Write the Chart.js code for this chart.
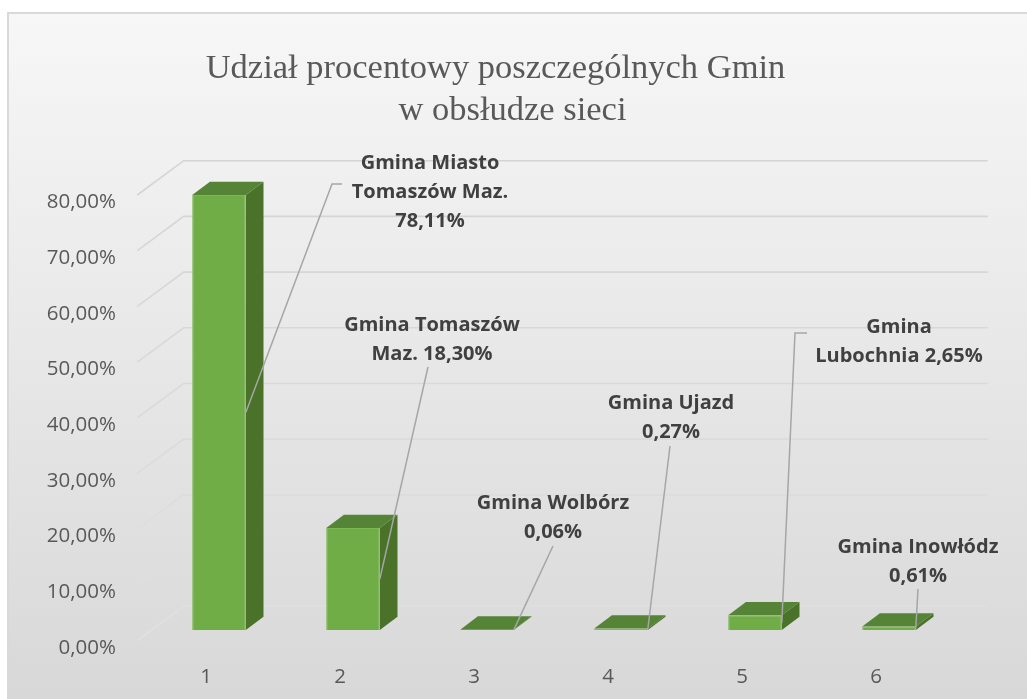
<!DOCTYPE html>
<html lang="pl">
<head>
<meta charset="UTF-8">
<title>Udział procentowy poszczególnych Gmin w obsłudze sieci</title>
<script src="https://cdn.jsdelivr.net/npm/chart.js"></script>
<style>
  html, body { margin: 0; padding: 0; background: #fff; }
  #wrap { width: 1027px; height: 699px; }
</style>
</head>
<body>
<div id="wrap"><canvas id="chart" width="1027" height="699"></canvas></div>
<script>
  // data
  const categories = ['1', '2', '3', '4', '5', '6'];
  const shares = [78.11, 18.30, 0.06, 0.27, 2.65, 0.61];
  const gminy = ['Gmina Miasto Tomaszów Maz.', 'Gmina Tomaszów Maz.', 'Gmina Wolbórz',
                 'Gmina Ujazd', 'Gmina Lubochnia', 'Gmina Inowłódz'];
  const yTicks = [0, 10, 20, 30, 40, 50, 60, 70, 80];
  const titleLines = ['Udział procentowy poszczególnych Gmin', 'w obsłudze sieci'];

  // how the data labels wrap (words per line) and where they sit
  const labelWrap = [[2, 2, 1], [2, 2], [2, 1], [2, 1], [1, 2], [2, 1]];
  const labelLayout = [
    { x: 430, y: 163, lead: [[342, 184], [332, 184]] },
    { x: 432, y: 325, lead: [[428, 367]] },
    { x: 553, y: 503, lead: [[553, 546]] },
    { x: 671, y: 403, lead: [[670, 446]] },
    { x: 899, y: 327, lead: [[807, 333], [795, 333]] },
    { x: 918, y: 547, lead: [[918, 589]] }
  ];

  const pct = v => v.toFixed(2).replace('.', ',') + '%';

  // 3D look
  const bar3d = { dx: 17.7, dy: 13.3 };     // bar depth
  const wall = { dx: 31.7, dy: 23.8 };      // back wall behind the bars
  const side = { dx: -14.7, dy: 10.5 };     // front end of side wall lines

  const frame = {
    id: 'frame',
    beforeDraw(chart) {
      const ctx = chart.ctx;
      ctx.save();
      ctx.fillStyle = '#fff';
      ctx.fillRect(0, 0, chart.width, chart.height);
      const g = ctx.createLinearGradient(0, 13, 0, chart.height);
      g.addColorStop(0, '#f7f7f7');
      g.addColorStop(1, '#d8d8d8');
      ctx.fillStyle = g;
      ctx.fillRect(8, 13, chart.width - 8, chart.height - 13);
      ctx.strokeStyle = '#d9d9d9';
      ctx.lineWidth = 2;
      ctx.beginPath();
      ctx.moveTo(8, chart.height);
      ctx.lineTo(8, 13);
      ctx.lineTo(chart.width, 13);
      ctx.stroke();

      ctx.fillStyle = '#595959';
      ctx.font = '34.5px "Liberation Serif", "Times New Roman", serif';
      ctx.textAlign = 'center';
      ctx.textBaseline = 'alphabetic';
      ctx.fillText(titleLines[0], 495.5, 78);
      ctx.fillText(titleLines[1], 512.5, 120);
      ctx.restore();
    }
  };

  const walls = {
    id: 'walls',
    beforeDatasetsDraw(chart) {
      const { ctx, chartArea: a, scales: { y } } = chart;
      ctx.save();
      const lg = ctx.createLinearGradient(0, a.top, 0, a.bottom);
      lg.addColorStop(0, '#d4d4d4');
      lg.addColorStop(1, '#e0e0e0');
      ctx.strokeStyle = lg;
      ctx.lineWidth = 1.6;
      yTicks.forEach(v => {
        const py = y.getPixelForValue(v);
        ctx.beginPath();
        ctx.moveTo(a.left + side.dx, py + side.dy);
        ctx.lineTo(a.left + wall.dx, py - wall.dy);
        ctx.lineTo(a.right + wall.dx, py - wall.dy);
        ctx.stroke();
      });

      // top and side faces of the bars
      const meta = chart.getDatasetMeta(0);
      meta.data.forEach(bar => {
        const { x, y: top, base, width } = bar.getProps(['x', 'y', 'base', 'width'], true);
        const x0 = x - width / 2, x1 = x + width / 2;
        ctx.fillStyle = '#4a7229';
        ctx.beginPath();
        ctx.moveTo(x1, top);
        ctx.lineTo(x1 + bar3d.dx, top - bar3d.dy);
        ctx.lineTo(x1 + bar3d.dx, base - bar3d.dy);
        ctx.lineTo(x1, base);
        ctx.closePath();
        ctx.fill();
        ctx.fillStyle = '#568437';
        ctx.beginPath();
        ctx.moveTo(x0, top);
        ctx.lineTo(x1, top);
        ctx.lineTo(x1 + bar3d.dx, top - bar3d.dy);
        ctx.lineTo(x0 + bar3d.dx, top - bar3d.dy);
        ctx.closePath();
        ctx.fill();
      });
      ctx.restore();
    }
  };

  const dataLabels = {
    id: 'dataLabels',
    afterDatasetsDraw(chart) {
      const { ctx, scales: { y } } = chart;
      const meta = chart.getDatasetMeta(0);
      ctx.save();
      // leader lines
      ctx.strokeStyle = '#a6a6a6';
      ctx.lineWidth = 1.5;
      meta.data.forEach((bar, i) => {
        const { x, width } = bar.getProps(['x', 'width'], true);
        const lay = labelLayout[i];
        ctx.beginPath();
        lay.lead.forEach((p, k) => k ? ctx.lineTo(p[0], p[1]) : ctx.moveTo(p[0], p[1]));
        ctx.lineTo(x + width / 2, y.getPixelForValue(shares[i] / 2));
        ctx.stroke();
      });
      // label text
      ctx.fillStyle = '#404040';
      ctx.font = 'bold 20px "Open Sans", sans-serif';
      ctx.textAlign = 'center';
      ctx.textBaseline = 'middle';
      shares.forEach((v, i) => {
        const words = (gminy[i] + ' ' + pct(v)).split(' ');
        let w = 0;
        labelWrap[i].forEach((n, line) => {
          const txt = words.slice(w, w + n).join(' ');
          w += n;
          ctx.fillText(txt, labelLayout[i].x, labelLayout[i].y + line * 29);
        });
      });
      ctx.restore();
    }
  };

  new Chart(document.getElementById('chart'), {
    type: 'bar',
    data: {
      labels: categories,
      datasets: [{
        data: shares,
        backgroundColor: '#70ad47',
        borderColor: '#7cb855',
        borderWidth: 1,
        categoryPercentage: 1,
        barPercentage: 0.4
      }]
    },
    options: {
      responsive: false,
      animation: false,
      layout: { padding: { top: 184.5, right: 71, bottom: 0, left: 0 } },
      plugins: {
        legend: { display: false },
        title: { display: false },
        tooltip: { enabled: false }
      },
      scales: {
        x: {
          grid: { display: false, drawTicks: false },
          border: { display: false },
          ticks: {
            color: '#595959',
            font: { family: '"Open Sans", sans-serif', size: 20.5 },
            padding: 35,
            labelOffset: -13
          },
          afterFit: s => { s.height = 69; }
        },
        y: {
          min: 0,
          max: 80,
          grid: { display: false, drawTicks: false },
          border: { display: false },
          afterBuildTicks: s => { s.ticks = yTicks.map(v => ({ value: v })); },
          ticks: {
            color: '#595959',
            font: { family: '"Open Sans", sans-serif', size: 20.5 },
            padding: 36,
            labelOffset: 18,
            callback: v => pct(v)
          },
          afterFit: s => { s.width = 152; }
        }
      }
    },
    plugins: [frame, walls, dataLabels]
  });
</script>
</body>
</html>
